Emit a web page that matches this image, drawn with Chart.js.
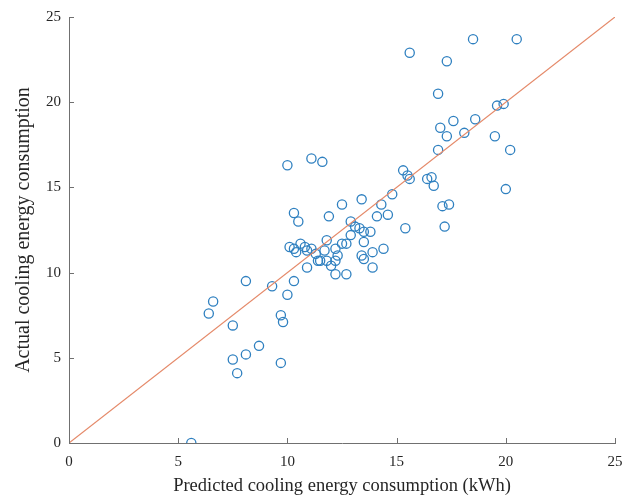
<!DOCTYPE html>
<html>
<head>
<meta charset="utf-8">
<script src="https://cdn.jsdelivr.net/npm/chart.js@4.4.1/dist/chart.umd.min.js"></script>
<style>
  html, body { margin: 0; padding: 0; background: #fff; }
  #chart { display: block; }
</style>
</head>
<body>
<canvas id="chart" width="633" height="497"></canvas>
<script>
// predicted (x) and actual (y) cooling energy
const predicted = [
    5.6, 6.4, 6.6, 8.1, 7.5, 7.5, 7.7, 8.1, 8.7, 9.3,
    9.7, 9.8, 9.7, 10.0, 10.3, 10.9, 10.1, 10.3, 10.6, 10.8,
    10.9, 11.3, 11.4, 11.1, 11.5, 11.8, 11.8, 11.7, 12.2, 12.5,
    12.7, 12.0, 12.2, 12.3, 12.2, 12.7, 12.9, 13.1, 13.3, 13.5,
    13.8, 12.9, 13.5, 13.4, 13.5, 13.9, 13.9, 14.1, 14.6, 14.4,
    15.4, 12.5, 13.4, 14.3, 14.8, 15.3, 15.5, 15.6, 16.4, 16.6,
    16.7, 10.0, 11.1, 11.6, 10.3, 10.5, 11.9, 15.6, 18.5, 20.5,
    17.3, 16.9, 17.0, 17.3, 17.6, 18.1, 18.6, 16.9, 19.5, 20.2,
    19.6, 19.9, 20.0, 17.1, 17.4, 17.2, 10.4
];
const actual = [
    0.0, 7.6, 8.3, 9.5, 6.9, 4.9, 4.1, 5.2, 5.7, 9.2,
    7.5, 7.1, 4.7, 8.7, 9.5, 10.3, 11.5, 11.4, 11.7, 11.5,
    11.3, 11.1, 10.7, 11.4, 10.7, 10.7, 11.9, 11.3, 11.4, 11.7,
    11.7, 10.4, 10.7, 11.0, 9.9, 9.9, 13.0, 12.7, 12.6, 12.4,
    12.4, 12.2, 11.8, 11.0, 10.8, 11.2, 10.3, 13.3, 13.4, 11.4,
    12.6, 14.0, 14.3, 14.0, 14.6, 16.0, 15.7, 15.5, 15.5, 15.6,
    15.1, 16.3, 16.7, 16.5, 13.5, 13.0, 13.3, 22.9, 23.7, 23.7,
    22.4, 20.5, 18.5, 18.0, 18.9, 18.2, 19.0, 17.2, 18.0, 17.2,
    19.8, 19.9, 14.9, 13.9, 14.0, 12.7, 11.2
];
const axisMin = 0;
const axisMax = 25;
const tickStep = 5;

const points = predicted.map((x, i) => ({ x: x, y: actual[i] }));
const diagonal = [{ x: axisMin, y: axisMin }, { x: axisMax, y: axisMax }];

// matlab style ticks pointing into the plot
const innerTicks = {
    id: 'innerTicks',
    afterDraw(chart) {
        const { ctx, chartArea, scales } = chart;
        ctx.save();
        ctx.strokeStyle = '#707070';
        ctx.lineWidth = 1;
        ctx.beginPath();
        scales.x.ticks.forEach(t => {
            const px = Math.round(scales.x.getPixelForValue(t.value)) + 0.5;
            ctx.moveTo(px, chartArea.bottom);
            ctx.lineTo(px, chartArea.bottom - 5);
        });
        scales.y.ticks.forEach(t => {
            const py = Math.round(scales.y.getPixelForValue(t.value)) + 0.5;
            ctx.moveTo(chartArea.left, py);
            ctx.lineTo(chartArea.left + 5, py);
        });
        ctx.stroke();
        ctx.restore();
    }
};

const serif = 'Liberation Serif';

new Chart(document.getElementById('chart'), {
    type: 'scatter',
    data: {
        datasets: [{
            label: 'data',
            data: points,
            pointStyle: 'circle',
            pointRadius: 4.6,
            pointBorderWidth: 1.3,
            pointBorderColor: '#2f80c0',
            pointBackgroundColor: 'rgba(0,0,0,0)',
            order: 2
        }, {
            type: 'line',
            label: 'y = x',
            data: diagonal,
            borderColor: '#e58a6a',
            borderWidth: 1.2,
            pointRadius: 0,
            fill: false,
            order: 1
        }]
    },
    options: {
        responsive: false,
        animation: false,
        layout: { padding: { top: 12, right: 18, left: 0, bottom: 0 } },
        plugins: {
            legend: { display: false },
            tooltip: { enabled: false }
        },
        scales: {
            x: {
                type: 'linear',
                min: axisMin,
                max: axisMax,
                afterFit: s => { s.height = 54; },
                grid: { display: false, drawTicks: false },
                border: { color: '#707070', width: 1 },
                ticks: {
                    stepSize: tickStep,
                    padding: 10,
                    color: '#262626',
                    font: { family: serif, size: 15 }
                },
                title: {
                    display: true,
                    text: 'Predicted cooling energy consumption (kWh)',
                    color: '#262626',
                    font: { family: serif, size: 18.5 },
                    padding: { top: 0, bottom: 0 }
                }
            },
            y: {
                type: 'linear',
                min: axisMin,
                max: axisMax,
                afterFit: s => { s.width = 69; },
                grid: { display: false, drawTicks: false },
                border: { color: '#707070', width: 1 },
                ticks: {
                    stepSize: tickStep,
                    padding: 8,
                    color: '#262626',
                    font: { family: serif, size: 15 }
                },
                title: {
                    display: true,
                    text: 'Actual cooling energy consumption',
                    color: '#262626',
                    font: { family: serif, size: 20 },
                    padding: { top: 12, bottom: 0 }
                }
            }
        }
    },
    plugins: [innerTicks]
});
</script>
</body>
</html>
